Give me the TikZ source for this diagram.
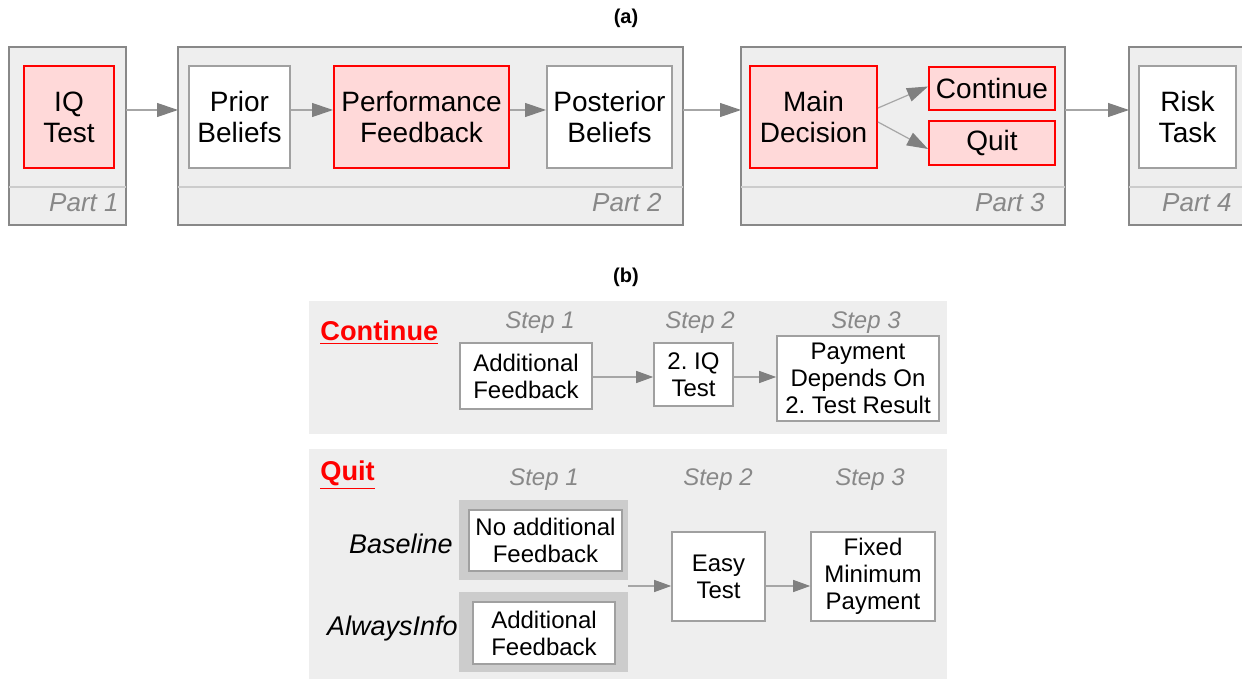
\documentclass[tikz,border=0pt]{standalone}
\usepackage{fontspec}
\setmainfont{Liberation Sans}
\usetikzlibrary{arrows.meta,positioning}
\definecolor{boxgray}{HTML}{888888}
\definecolor{panelgray}{HTML}{EEEEEE}
\definecolor{framegray}{HTML}{CCCCCC}
\definecolor{pinkfill}{HTML}{FFD9D9}
\definecolor{linegray}{HTML}{A6A6A6}
\definecolor{headgray}{HTML}{808080}
\frenchspacing

\begin{document}
\begin{tikzpicture}[x=0.5pt,y=-0.5pt,
  part/.style={draw=boxgray,line width=1pt,fill=panelgray,inner sep=0pt,outer sep=0pt},
  redbox/.style={draw=red,line width=1pt,fill=pinkfill,align=center,inner sep=0pt,
    font=\fontsize{14}{15.5}\selectfont},
  whitebox/.style={draw=boxgray!80,line width=1pt,fill=white,align=center,inner sep=0pt,
    font=\fontsize{14}{15.5}\selectfont},
  stepbox/.style={draw=boxgray!80,line width=0.8pt,fill=white,align=center,inner sep=0pt,
    font=\fontsize{12}{13.5}\selectfont},
  panel/.style={fill=panelgray,inner sep=0pt},
  frame/.style={fill=framegray,inner sep=0pt,minimum width=84.5pt,minimum height=40pt},
  partlabel/.style={anchor=east,inner sep=0pt,text=boxgray,font=\fontsize{13}{15}\selectfont\itshape},
  steplabel/.style={text=boxgray,font=\fontsize{12}{14}\selectfont\itshape},
  grouplabel/.style={anchor=east,inner sep=0pt,font=\fontsize{13.5}{15}\selectfont\itshape},
  headlabel/.style={anchor=base west,inner sep=0pt,text=red,font=\fontsize{13.6}{15}\selectfont\bfseries},
  sepline/.style={draw=framegray,line width=0.7pt},
  arrow/.style={draw=linegray,line width=0.6pt,-{Triangle[length=10.5pt,width=7pt,color=headgray]}},
  smallarrow/.style={draw=linegray,line width=0.6pt,-{Triangle[length=8.5pt,width=6pt,color=headgray]}}
]
\clip (0,0) rectangle (1242,679);

% (a) the four parts
\node[font=\fontsize{10}{12}\selectfont\bfseries] (tita) at (626,18) {(a)};
\node[part,minimum width=58.5pt,minimum height=89pt] (p1) at (67.5,136) {};
\node[part,minimum width=252.5pt,minimum height=89pt] (p2) at (430.5,136) {};
\node[part,minimum width=162pt,minimum height=89pt] (p3) at (903,136) {};
\node[part,minimum width=85.5pt,minimum height=89pt] (p4) at (1214.5,136) {};
\foreach \p in {p1,p2,p3,p4}
  \draw[sepline] ([yshift=19pt]\p.south west) -- ([yshift=19pt]\p.south east);
\node[partlabel] (lab1) at ([xshift=-3.5pt,yshift=11pt]p1.south east) {Part 1};
\node[partlabel] (lab2) at ([xshift=-10.5pt,yshift=11pt]p2.south east) {Part 2};
\node[partlabel] (lab3) at ([xshift=-10pt,yshift=11pt]p3.south east) {Part 3};
\node[partlabel] (lab4) at (1232,203) {Part 4};

\node[redbox,minimum width=45pt,minimum height=51pt] (iq) at (69,117) {IQ\\Test};
\node[whitebox,minimum width=50.5pt,minimum height=51pt] (prior) at (239.5,117) {Prior\\Beliefs};
\node[redbox,minimum width=87.5pt,minimum height=51pt] (perf) at (421.5,117) {Performance\\Feedback};
\node[whitebox,minimum width=62.5pt,minimum height=51pt] (post) at (609.5,117) {Posterior\\Beliefs};
\node[redbox,minimum width=63.5pt,minimum height=51pt] (main) at (813.5,117) {Main\\Decision};
\node[redbox,minimum width=63pt,minimum height=21.5pt] (cont) at (992,88.5) {Continue};
\node[redbox,minimum width=63pt,minimum height=22pt] (quit) at (992,143) {Quit};
\node[whitebox,minimum width=48.5pt,minimum height=51pt] (risk) at (1187.5,117) {Risk\\Task};

\draw[arrow] ([yshift=13pt]p1.east) -- ([yshift=13pt]p2.west);
\draw[arrow] ([yshift=3.5pt]prior.east) -- ([yshift=3.5pt]perf.west);
\draw[arrow] ([yshift=3.5pt]perf.east) -- ([yshift=3.5pt]post.west);
\draw[arrow] ([yshift=13pt]p2.east) -- ([yshift=13pt]p3.west);
\draw[arrow] ([yshift=4.5pt]main.east) -- ([yshift=1pt]cont.west);
\draw[arrow] ([yshift=-2.5pt]main.east) -- ([yshift=-3pt]quit.west);
\draw[arrow] ([yshift=13pt]p3.east) -- ([yshift=13pt]p4.west);

% (b) continue and quit
\node[font=\fontsize{10}{12}\selectfont\bfseries] (titb) at (626,277) {(b)};
\node[panel,minimum width=319pt,minimum height=66.5pt] (contpanel) at (628,367.5) {};
\node[panel,minimum width=319pt,minimum height=115pt] (quitpanel) at (628,564) {};

\node[headlabel] (conthead) at (320,340) {\underline{Continue}};
\node[steplabel] (cs1) at (540,323) {Step 1};
\node[steplabel] (cs2) at (700,323) {Step 2};
\node[steplabel] (cs3) at (866,323) {Step 3};
\node[stepbox,minimum width=66pt,minimum height=33pt] (addfb) at (526,376) {Additional\\Feedback};
\node[stepbox,minimum width=39.5pt,minimum height=31.5pt] (iq2) at (693.5,374.5) {2. IQ\\Test};
\node[stepbox,minimum width=81pt,minimum height=42.5pt] (pay) at (858,378.5) {Payment\\Depends On\\2. Test Result};
\draw[smallarrow] (addfb.east |- 0,377) -- (iq2.west |- 0,377);
\draw[smallarrow] (iq2.east |- 0,377) -- (pay.west |- 0,377);

\node[headlabel] (quithead) at (320,480) {\underline{Quit}};
\node[steplabel] (qs1) at (544,480) {Step 1};
\node[steplabel] (qs2) at (718,480) {Step 2};
\node[steplabel] (qs3) at (870,480) {Step 3};
\node[grouplabel] (base) at (453,544) {Baseline};
\node[grouplabel] (always) at (458,629) {AlwaysInfo};
\node[frame] (baseframe) at (543.5,540) {};
\node[frame] (alwaysframe) at (543.5,632) {};
\node[stepbox,minimum width=76.5pt,minimum height=30.5pt] (nofb) at (545.5,540.5) {No additional\\Feedback};
\node[stepbox,minimum width=71pt,minimum height=31pt] (addfb2) at (544,633) {Additional\\Feedback};
\node[stepbox,minimum width=46.5pt,minimum height=44.5pt] (easy) at (718.5,576.5) {Easy\\Test};
\node[stepbox,minimum width=62pt,minimum height=44.5pt] (fixed) at (873,576.5) {Fixed\\Minimum\\Payment};
\coordinate (frameout) at (628,586);
\draw[smallarrow] (frameout) -- (easy.west |- frameout);
\draw[smallarrow] (easy.east |- frameout) -- (fixed.west |- frameout);
\end{tikzpicture}
\end{document}
